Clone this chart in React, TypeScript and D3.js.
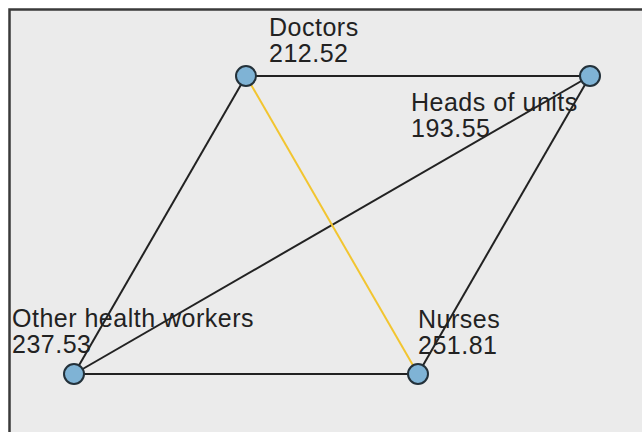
import React from 'react';
import * as d3 from 'd3';

// node names and values
const nodeNames = ['Doctors', 'Heads of units', 'Other health workers', 'Nurses'];
const nodeValues = [212.52, 193.55, 237.53, 251.81];
// grid layout of the nodes (column, row)
const nodeCols = [1 / 3, 1, 0, 2 / 3];
const nodeRows = [0, 0, 1, 1];
// label offsets from node centre
const labelDx = [23, -179, -62, 0];
const labelDy = [-40, 35, -47, -46];

// edges: source, target, highlighted
const edgeSource = ['Doctors', 'Doctors', 'Heads of units', 'Heads of units', 'Other health workers', 'Doctors'];
const edgeTarget = ['Heads of units', 'Other health workers', 'Other health workers', 'Nurses', 'Nurses', 'Nurses'];
const edgeHighlight = [false, false, false, false, false, true];

const W = 642, H = 432;

export default function App() {
  const x = d3.scaleLinear().domain([0, 1]).range([74, 590]);
  const y = d3.scaleLinear().domain([0, 1]).range([76, 374]);

  const nodes = nodeNames.map((name, i) => ({
    name,
    value: nodeValues[i],
    x: x(nodeCols[i]),
    y: y(nodeRows[i]),
    dx: labelDx[i],
    dy: labelDy[i]
  }));
  const byName = new Map(nodes.map(n => [n.name, n]));
  const edges = edgeSource.map((s, i) => ({
    s: byName.get(s)!,
    t: byName.get(edgeTarget[i])!,
    hi: edgeHighlight[i]
  }));

  return (
    <svg width={W} height={H} style={{ position: 'fixed', left: 0, top: 0, background: '#fff' }}>
      <rect x={9.5} y={9.5} width={W + 20} height={H + 20} fill="#ebebeb" stroke="#3a3a3a" strokeWidth={2.5} />
      <g>
        {edges.map((e, i) => (
          <line key={i} x1={e.s.x} y1={e.s.y} x2={e.t.x} y2={e.t.y}
            stroke={e.hi ? '#f2c530' : '#222'} strokeWidth={2} />
        ))}
      </g>
      <g>
        {nodes.map(n => (
          <circle key={n.name} cx={n.x} cy={n.y} r={10} fill="#7fb3d5" stroke="#23313a" strokeWidth={2} />
        ))}
      </g>
      <g fontFamily="'Liberation Sans', Arial, sans-serif" fontSize={25} letterSpacing={0.5} fill="#222">
        {nodes.map(n => (
          <text key={n.name} x={n.x + n.dx} y={n.y + n.dy}>
            <tspan x={n.x + n.dx}>{n.name}</tspan>
            <tspan x={n.x + n.dx} dy={26}>{d3.format('.2f')(n.value)}</tspan>
          </text>
        ))}
      </g>
    </svg>
  );
}
